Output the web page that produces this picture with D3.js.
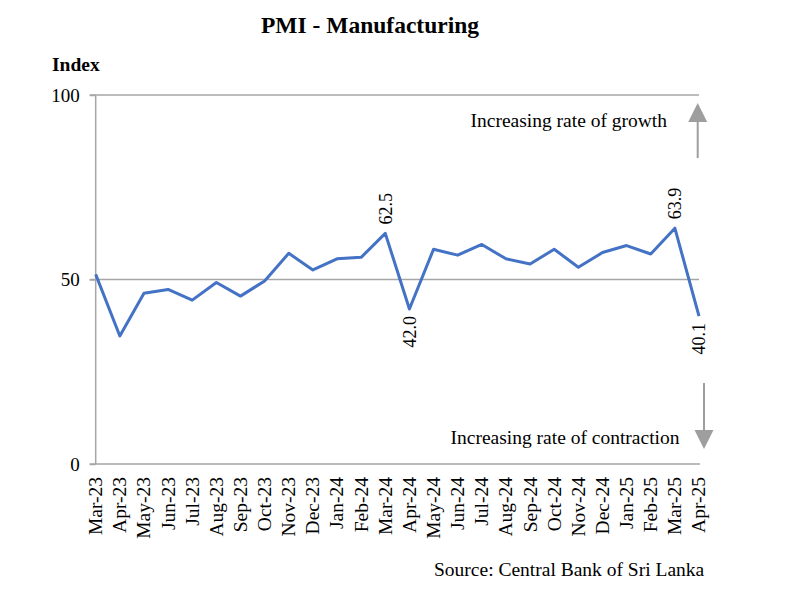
<!DOCTYPE html>
<html>
<head>
<meta charset="utf-8">
<script src="https://cdn.jsdelivr.net/npm/d3@7"></script>
<style>
  body { margin: 0; background: #fff; }
  text { font-family: "Liberation Serif", "Times New Roman", serif; fill: #000; }
</style>
</head>
<body>
<div id="chart"></div>
<script>
// PMI manufacturing index, monthly
const months = ["Mar-23", "Apr-23", "May-23", "Jun-23", "Jul-23", "Aug-23", "Sep-23", "Oct-23",
    "Nov-23", "Dec-23", "Jan-24", "Feb-24", "Mar-24", "Apr-24", "May-24", "Jun-24", "Jul-24",
    "Aug-24", "Sep-24", "Oct-24", "Nov-24", "Dec-24", "Jan-25", "Feb-25", "Mar-25", "Apr-25"];
const pmi = [51.4, 34.7, 46.3, 47.3, 44.4, 49.2, 45.5, 49.6, 57.1, 52.6, 55.6, 56.0, 62.5, 42.0,
    58.2, 56.6, 59.5, 55.6, 54.2, 58.2, 53.3, 57.3, 59.2, 56.9, 63.9, 40.1];
const yTicks = [0, 50, 100];
// points that get a value label, and where it goes
const labelled = [
    {month: "Mar-24", pos: "above"},
    {month: "Apr-24", pos: "below"},
    {month: "Mar-25", pos: "above"},
    {month: "Apr-25", pos: "below"}
];

const width = 800, height = 593;
const margin = {top: 95, right: 101, bottom: 129, left: 95.7};
const grey = "#a6a6a6";

const svg = d3.select("#chart").append("svg")
    .attr("width", width)
    .attr("height", height);

const x = d3.scalePoint()
    .domain(months)
    .range([margin.left, width - margin.right]);

const y = d3.scaleLinear()
    .domain([0, 100])
    .range([height - margin.bottom, margin.top]);

// gridlines at 50 and 100
svg.append("g")
    .selectAll("line")
    .data(yTicks.filter(d => d > 0))
    .join("line")
    .attr("x1", margin.left - 6)
    .attr("x2", width - margin.right)
    .attr("y1", d => y(d))
    .attr("y2", d => y(d))
    .attr("stroke", grey)
    .attr("stroke-width", 1.5);

// y axis
const yAxis = d3.axisLeft(y)
    .tickValues(yTicks)
    .tickSize(6)
    .tickPadding(10);

const yg = svg.append("g")
    .attr("transform", "translate(" + margin.left + ",0)")
    .call(yAxis);
yg.select(".domain").attr("stroke", grey).attr("stroke-width", 1.5).attr("d",
    "M0," + y(100) + "V" + y(0));
yg.selectAll(".tick line").attr("stroke", grey).attr("stroke-width", 1.5);
yg.selectAll(".tick text")
    .style("font-family", "Liberation Serif")
    .style("font-size", "19px")
    .attr("fill", "#000");

// x axis
svg.append("line")
    .attr("x1", margin.left - 6)
    .attr("x2", width - margin.right + 1)
    .attr("y1", y(0))
    .attr("y2", y(0))
    .attr("stroke", grey)
    .attr("stroke-width", 1.5);

svg.append("g")
    .selectAll("text")
    .data(months)
    .join("text")
    .attr("transform", d => "translate(" + x(d) + "," + (y(0) + 13) + ") rotate(-90)")
    .attr("text-anchor", "end")
    .attr("dy", "0.33em")
    .style("font-size", "19.5px")
    .text(d => d);

// line
const line = d3.line()
    .x((d, i) => x(months[i]))
    .y(d => y(d));

svg.append("path")
    .datum(pmi)
    .attr("d", line)
    .attr("fill", "none")
    .attr("stroke", "#4472c4")
    .attr("stroke-width", 3)
    .attr("stroke-linejoin", "round");

// value labels
svg.append("g")
    .selectAll("text")
    .data(labelled)
    .join("text")
    .attr("transform", d => {
        const v = pmi[months.indexOf(d.month)];
        const yy = d.pos === "above" ? y(v) - 9 : y(v) + 7;
        return "translate(" + x(d.month) + "," + yy + ") rotate(-90)";
    })
    .attr("text-anchor", d => d.pos === "above" ? "start" : "end")
    .attr("dy", "0.35em")
    .style("font-size", "18px")
    .text(d => pmi[months.indexOf(d.month)].toFixed(1));

// titles
svg.append("text")
    .attr("x", 370)
    .attr("y", 33)
    .attr("text-anchor", "middle")
    .style("font-size", "23.5px")
    .style("font-weight", "bold")
    .text("PMI - Manufacturing");

svg.append("text")
    .attr("x", 52)
    .attr("y", 71)
    .style("font-size", "19.5px")
    .style("font-weight", "bold")
    .text("Index");

svg.append("text")
    .attr("x", 434)
    .attr("y", 576)
    .style("font-size", "19.5px")
    .text("Source: Central Bank of Sri Lanka");

// growth / contraction annotations
svg.append("text")
    .attr("x", 470.5)
    .attr("y", 127)
    .style("font-size", "19.5px")
    .text("Increasing rate of growth");

svg.append("text")
    .attr("x", 450.5)
    .attr("y", 444)
    .style("font-size", "19.5px")
    .text("Increasing rate of contraction");

const arrowGrey = "#9e9e9e";
// up arrow
svg.append("line")
    .attr("x1", 697.7).attr("x2", 697.7)
    .attr("y1", 158).attr("y2", 120)
    .attr("stroke", arrowGrey).attr("stroke-width", 2);
svg.append("path")
    .attr("d", "M697.7,103 L707.2,122 L688.2,122 Z")
    .attr("fill", arrowGrey);
// down arrow
svg.append("line")
    .attr("x1", 704).attr("x2", 704)
    .attr("y1", 383).attr("y2", 432)
    .attr("stroke", arrowGrey).attr("stroke-width", 2);
svg.append("path")
    .attr("d", "M704,449 L713.5,430 L694.5,430 Z")
    .attr("fill", arrowGrey);
</script>
</body>
</html>
